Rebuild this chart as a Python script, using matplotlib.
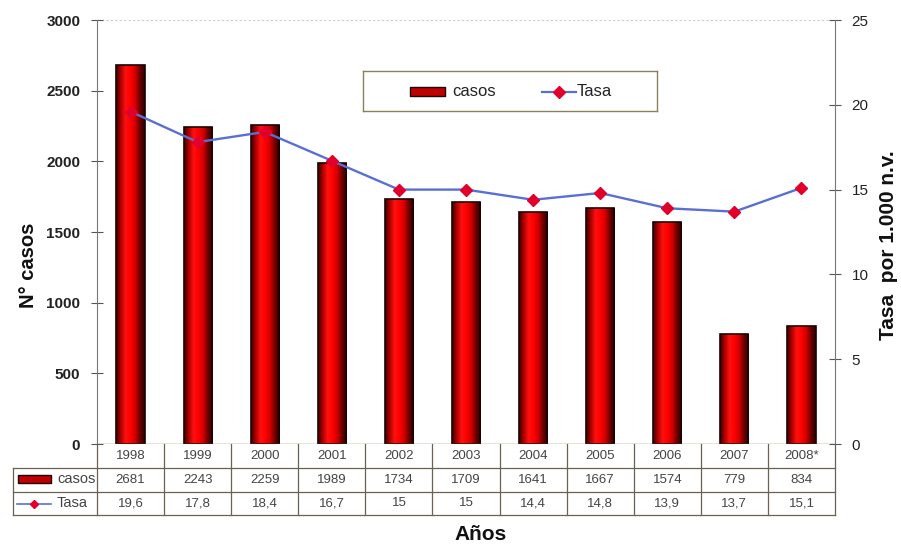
import numpy as np
import matplotlib
matplotlib.use("Agg")
import matplotlib.pyplot as plt
from matplotlib.patches import Rectangle
from matplotlib.lines import Line2D
from matplotlib.colors import LinearSegmentedColormap

plt.rcParams['font.family'] = ['Liberation Sans', 'DejaVu Sans']

years = ["1998", "1999", "2000", "2001", "2002", "2003", "2004", "2005", "2006", "2007", "2008*"]
casos = [2681, 2243, 2259, 1989, 1734, 1709, 1641, 1667, 1574, 779, 834]
tasa = [19.6, 17.8, 18.4, 16.7, 15, 15, 14.4, 14.8, 13.9, 13.7, 15.1]
tasa_labels = ["19,6", "17,8", "18,4", "16,7", "15", "15", "14,4", "14,8", "13,9", "13,7", "15,1"]

W, H = 901, 544
fig = plt.figure(figsize=(W / 100, H / 100), dpi=100)

def fx(px):
    return px / W

def fy(py):
    return 1 - py / H

ax_l, ax_r, ax_t, ax_b = 97, 835, 20, 444
ax = fig.add_axes([fx(ax_l), fy(ax_b), fx(ax_r) - fx(ax_l), fy(ax_t) - fy(ax_b)])
ax2 = ax.twinx()

n = len(years)
x = np.arange(n)
bw = 0.42

# shaded cylinder-like bars
cmap = LinearSegmentedColormap.from_list(
    "bar", ["#3a0000", "#b00000", "#ff1010", "#ff0000", "#d00000", "#6a0000", "#2a0000"])
grad = np.linspace(0, 1, 256).reshape(1, -1)
for xi, v in zip(x, casos):
    rect = Rectangle((xi - bw / 2, 0), bw, v, facecolor="none",
                     edgecolor="#1a0000", linewidth=1.2, zorder=3)
    ax.add_patch(rect)
    im = ax.imshow(grad, cmap=cmap, aspect="auto",
                   extent=(xi - bw / 2, xi + bw / 2, 0, v), zorder=2)
    im.set_clip_path(rect)
ax.set_xlim(-0.5, n - 0.5)
ax.set_ylim(0, 3000)
ax2.set_ylim(0, 25)

line_color = "#5a6fd6"
ax2.plot(x, tasa, color=line_color, linewidth=1.7, marker="D", markersize=6.5,
         markerfacecolor="#e0002a", markeredgecolor="#e0002a", zorder=5)

# axes styling
for a in (ax, ax2):
    for s in ("top", "bottom"):
        a.spines[s].set_visible(False)
ax.spines["right"].set_visible(False)
ax2.spines["left"].set_visible(False)
ax.spines["left"].set_color("#777777")
ax2.spines["right"].set_color("#777777")
ax.plot([-0.5, n - 0.5], [3000, 3000], color="#cccccc", linewidth=0.8,
        linestyle=(0, (2, 2)), clip_on=False, zorder=1)
ax.axhline(0, color="#8a7a50", linewidth=1.0, zorder=4)

ax.set_xticks([])
ax.set_yticks(np.arange(0, 3001, 500))
ax.tick_params(axis="y", direction="inout", length=8, color="#555555",
               labelsize=11, pad=8)
for t in ax.get_yticklabels():
    t.set_fontweight("bold")
    t.set_color("#222222")
ax2.set_yticks(np.arange(0, 26, 5))
ax2.tick_params(axis="y", direction="inout", length=8, color="#555555",
                labelsize=11, pad=8, labelcolor="#222222")

fig.text(fx(28), fy(265), "N° casos", rotation=90, ha="center", va="center",
         fontsize=14.5, fontweight="bold", color="#111111")
fig.text(fx(888), fy(245), "Tasa  por 1.000 n.v.", rotation=90, ha="center",
         va="center", fontsize=15, fontweight="bold", color="#111111")
fig.text(fx(481), fy(535), "Años", ha="center", va="center",
         fontsize=15, fontweight="bold", color="#111111")

# data table under the axis
tbl_color = "#6a6250"
row_edges = [444, 468, 492, 515]
col_px = [ax_l + (ax_r - ax_l) * i / n for i in range(n + 1)]
leg_left = 13
for cp in col_px:
    fig.add_artist(Line2D([fx(cp), fx(cp)], [fy(444), fy(515)], color=tbl_color, lw=0.9))
fig.add_artist(Line2D([fx(leg_left), fx(leg_left)], [fy(468), fy(515)], color=tbl_color, lw=0.9))
for ry in row_edges[1:]:
    fig.add_artist(Line2D([fx(leg_left), fx(ax_r)], [fy(ry), fy(ry)], color=tbl_color, lw=0.9))

rows = [years, [str(c) for c in casos], tasa_labels]
for r, vals in enumerate(rows):
    yc = (row_edges[r] + row_edges[r + 1]) / 2
    for i, v in enumerate(vals):
        xc = (col_px[i] + col_px[i + 1]) / 2
        fig.text(fx(xc), fy(yc), v, ha="center", va="center", fontsize=9.5,
                 color="#444444")

# row keys in the table
key_ax = fig.add_axes([fx(leg_left), fy(515), fx(ax_l) - fx(leg_left), fy(468) - fy(515)])
key_ax.axis("off")
kr = Rectangle((18, 475), 33, 8, facecolor="#c00000", edgecolor="#1a0000", lw=1.0)
key_ax.add_patch(kr)
kim = key_ax.imshow(np.linspace(0, 1, 64).reshape(-1, 1), cmap=cmap, aspect="auto",
                    extent=(18, 51, 483, 475))
kim.set_clip_path(kr)
key_ax.plot([17, 51], [503.5, 503.5], color=line_color, lw=1.2)
key_ax.plot([34], [503.5], marker="D", markersize=4.5, color="#e0002a")
key_ax.set_xlim(leg_left, ax_l)
key_ax.set_ylim(515, 468)
fig.text(fx(57), fy(479), "casos", ha="left", va="center", fontsize=10.5, color="#444444")
fig.text(fx(57), fy(503), "Tasa", ha="left", va="center", fontsize=10.5, color="#444444")

# legend box
lg = fig.add_axes([fx(363), fy(111), fx(657) - fx(363), fy(71) - fy(111)])
lg.set_xticks([])
lg.set_yticks([])
for s in lg.spines.values():
    s.set_color("#8a8060")
    s.set_linewidth(1.0)
lr = Rectangle((410, 87), 35, 9, facecolor="#c00000", edgecolor="#1a0000", lw=1.0)
lg.add_patch(lr)
lim = lg.imshow(np.linspace(0, 1, 64).reshape(-1, 1), cmap=cmap, aspect="auto",
                extent=(410, 445, 96, 87))
lim.set_clip_path(lr)
lg.text(452, 92, "casos", ha="left", va="center", fontsize=12, color="#222222")
lg.plot([542, 576], [92, 92], color=line_color, lw=1.6)
lg.plot([559], [92], marker="D", markersize=6, color="#e0002a")
lg.text(577, 92, "Tasa", ha="left", va="center", fontsize=12, color="#222222")
lg.set_xlim(363, 657)
lg.set_ylim(111, 71)

fig.savefig("out.png", dpi=100)
